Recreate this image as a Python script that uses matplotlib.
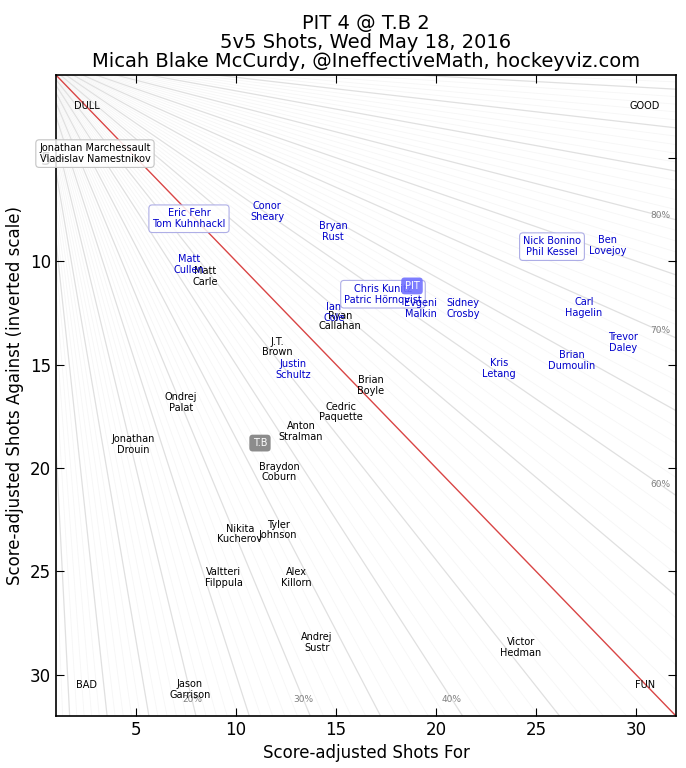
import numpy as np
import matplotlib
matplotlib.use('Agg')
import matplotlib.pyplot as plt

# Игроки Tampa Bay: подпись, броски за, броски против
tb_names = ['Jonathan Marchessault\nVladislav Namestnikov', 'Matt\nCarle', 'J.T.\nBrown',
            'Ryan\nCallahan', 'Brian\nBoyle', 'Cedric\nPaquette', 'Anton\nStralman',
            'Ondrej\nPalat', 'Jonathan\nDrouin', 'Braydon\nCoburn', 'Nikita\nKucherov',
            'Tyler\nJohnson', 'Valtteri\nFilppula', 'Alex\nKillorn', 'Andrej\nSustr',
            'Jason\nGarrison', 'Victor\nHedman']
tb_sf = [2.95, 8.45, 12.05, 15.2, 16.75, 15.25, 13.25, 7.25, 4.85, 12.15, 10.2,
         12.1, 9.4, 13.0, 14.05, 7.7, 24.25]
tb_sa = [4.8, 10.75, 14.15, 12.9, 16.0, 17.3, 18.25, 16.85, 18.85, 20.2, 23.2,
         23.0, 25.3, 25.3, 28.45, 30.7, 28.7]

# Игроки Pittsburgh
pit_names = ['Eric Fehr\nTom Kuhnhackl', 'Conor\nSheary', 'Bryan\nRust', 'Matt\nCullen',
             'Chris Kunitz\nPatric Hörnqvist', 'Ian\nCole', 'Evgeni\nMalkin', 'Sidney\nCrosby',
             'Nick Bonino\nPhil Kessel', 'Ben\nLovejoy', 'Carl\nHagelin', 'Trevor\nDaley',
             'Brian\nDumoulin', 'Kris\nLetang', 'Justin\nSchultz']
pit_sf = [7.65, 11.55, 14.85, 7.65, 17.35, 14.9, 19.25, 21.35, 25.8, 28.6, 27.4,
          29.35, 26.8, 23.15, 12.85]
pit_sa = [7.95, 7.6, 8.55, 10.15, 11.6, 12.5, 12.3, 12.3, 9.3, 9.25, 12.25,
          13.95, 14.8, 15.2, 15.25]

# Команды целиком
team_names = ['PIT', 'T.B']
team_sf = [18.8, 11.2]
team_sa = [11.2, 18.8]

pct_labels = [20, 30, 40, 60, 70, 80]

lo, hi = 1, 32

fig = plt.figure(figsize=(6.86, 7.68), dpi=100)
ax = fig.add_axes([0.0816, 0.0677, 0.9038, 0.8346])

# Линии постоянной доли бросков
xs = np.linspace(0, 40, 200)
for p in range(1, 100):
    frac = p / 100
    ys = xs * (1 - frac) / frac
    if p == 50:
        continue
    if p % 5 == 0:
        ax.plot(xs, ys, color='#e0e0e0', lw=0.9, zorder=1)
    else:
        ax.plot(xs, ys, color='#f6f6f6', lw=0.6, zorder=0)
ax.plot([0, 40], [0, 40], color='#d94545', lw=1.0, zorder=2)

for p in pct_labels:
    frac = p / 100
    if p < 50:
        x, y = 31.2 * frac / (1 - frac), 31.2
    else:
        x, y = 31.2, 31.2 * (1 - frac) / frac
    ax.text(x, y, f'{p}%', color='gray', fontsize=6.5, ha='center', va='center', zorder=3)

for txt, x, y in [('DULL', 2.55, 2.5), ('GOOD', 30.45, 2.5), ('BAD', 2.55, 30.5), ('FUN', 30.45, 30.5)]:
    ax.text(x, y, txt, fontsize=7, ha='center', va='center', zorder=3)

def draw_players(names, sf, sa, color, edge):
    for name, x, y in zip(names, sf, sa):
        bbox = None
        # пары игроков с одинаковыми числами - в рамке
        if len(name.split('\n')[0].split()) > 1:
            bbox = dict(boxstyle='round,pad=0.35', fc=(1, 1, 1, 0.85), ec=edge, lw=0.8)
        ax.text(x, y, name, color=color, fontsize=7, ha='center', va='center',
                linespacing=1.1, bbox=bbox, zorder=5, clip_on=False)

draw_players(tb_names, tb_sf, tb_sa, 'black', '#c4c4c4')
draw_players(pit_names, pit_sf, pit_sa, '#0000cc', '#aeaee6')

for name, x, y, c in zip(team_names, team_sf, team_sa, ['#7070ff', '#808080']):
    ax.text(x, y, name, color='white', fontsize=7, ha='center', va='center', zorder=6,
            bbox=dict(boxstyle='round,pad=0.35', fc=c, ec='none', alpha=0.9))

ax.set_xlim(lo, hi)
ax.set_ylim(hi, lo)
ax.set_xticks([5, 10, 15, 20, 25, 30])
ax.set_yticks([5, 10, 15, 20, 25, 30])
ax.tick_params(direction='in', top=True, right=True, labelsize=12, length=6)
for s in ax.spines.values():
    s.set_linewidth(1.2)

ax.set_xlabel('Score-adjusted Shots For', fontsize=12)
ax.set_ylabel('Score-adjusted Shots Against (inverted scale)', fontsize=12)
ax.set_title('PIT 4 @ T.B 2\n5v5 Shots, Wed May 18, 2016\nMicah Blake McCurdy, @IneffectiveMath, hockeyviz.com',
             fontsize=14, linespacing=1.0)

fig.savefig('out.png', dpi=100)
